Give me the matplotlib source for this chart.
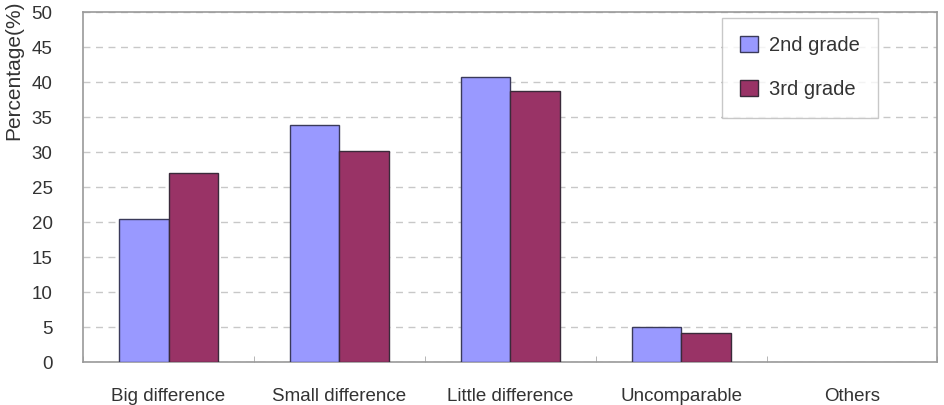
import numpy as np
import matplotlib
matplotlib.use('Agg')
import matplotlib.pyplot as plt

categories = ["Big difference", "Small difference", "Little difference", "Uncomparable", "Others"]
grade2 = [20.4, 33.9, 40.7, 5.0, 0.0]
grade3 = [27.0, 30.1, 38.7, 4.1, 0.0]
series_names = ["2nd grade", "3rd grade"]
yticks = list(range(0, 51, 5))

plt.rcParams['font.family'] = ['Liberation Sans', 'DejaVu Sans']

fig = plt.figure(figsize=(9.44, 4.05), dpi=100)
ax = fig.add_axes([0.088, 0.106, 0.905, 0.864])

x = np.arange(len(categories))
w = 0.29
b2 = ax.bar(x - w / 2, grade2, w, color='#9999ff', edgecolor='#3a3a5a', linewidth=1.0,
            label=series_names[0], zorder=3)
b3 = ax.bar(x + w / 2, grade3, w, color='#993366', edgecolor='#3a2a3a', linewidth=1.0,
            label=series_names[1], zorder=3)
# zero bars are not drawn at all in the original
for bars in (b2, b3):
    for r in bars:
        if r.get_height() == 0:
            r.set_visible(False)

ax.set_xlim(-0.5, len(categories) - 0.5)
ax.set_ylim(0, 50)
ax.set_yticks(yticks)
ax.yaxis.grid(True, linestyle=(0, (5, 4)), color='#c8c8c8', linewidth=1.0, zorder=0)

# category labels in the middle, tick marks at the group boundaries
ax.set_xticks(x)
ax.set_xticklabels(categories, fontsize=13.5, color='#333333')
ax.tick_params(axis='x', length=0, pad=19)
ax.set_xticks(np.arange(len(categories) + 1) - 0.5, minor=True)
ax.tick_params(axis='x', which='minor', direction='in', length=4, color='#aaaaaa')
ax.tick_params(axis='y', length=0, pad=22, labelsize=13.5, labelcolor='#333333')

for s in ax.spines.values():
    s.set_color('#999999')
    s.set_linewidth(1.2)

# the label runs off the top edge in the original
fig.text(0.004, 0.655, "Percentage(%)", rotation=90, va='bottom', ha='left',
         fontsize=15, color='#333333')

leg = ax.legend(loc='upper right', bbox_to_anchor=(0.93, 0.983), fontsize=14.5,
                frameon=True, fancybox=False, edgecolor='#bbbbbb',
                labelspacing=1.25, handlelength=0.85, handleheight=0.85,
                borderpad=0.9, handletextpad=0.55, borderaxespad=0.0)
for t in leg.get_texts():
    t.set_color('#333333')

fig.savefig("out.png", dpi=100)
